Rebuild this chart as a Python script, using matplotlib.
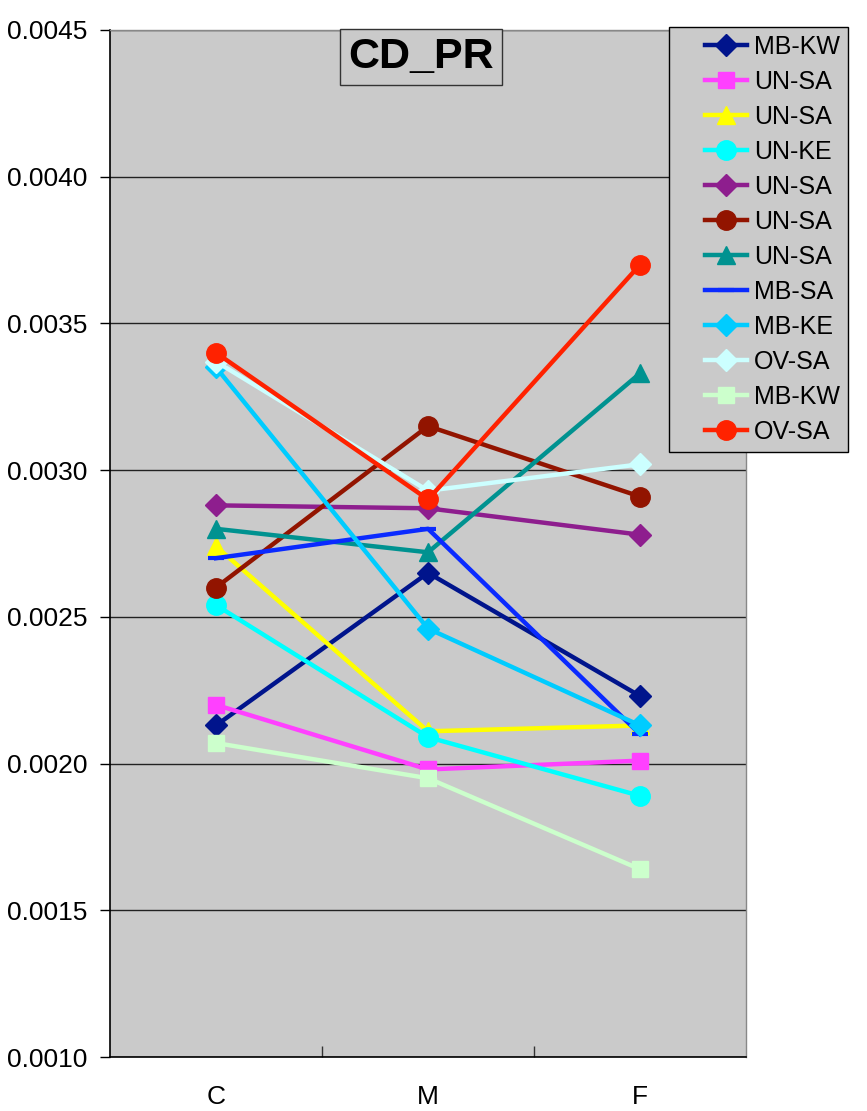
import matplotlib
matplotlib.use("Agg")
import matplotlib.pyplot as plt
from matplotlib.ticker import FixedLocator
from matplotlib.legend_handler import HandlerLine2D

plt.rcParams['font.family'] = ['Liberation Sans', 'DejaVu Sans']

categories = ['C', 'M', 'F']

labels = ['MB-KW', 'UN-SA', 'UN-SA', 'UN-KE', 'UN-SA', 'UN-SA',
          'UN-SA', 'MB-SA', 'MB-KE', 'OV-SA', 'MB-KW', 'OV-SA']

mb_kw_1 = [0.00213, 0.00265, 0.00223]
un_sa_1 = [0.00220, 0.00198, 0.00201]
un_sa_2 = [0.00274, 0.00211, 0.00213]
un_ke = [0.00254, 0.00209, 0.00189]
un_sa_3 = [0.00288, 0.00287, 0.00278]
un_sa_4 = [0.00260, 0.00315, 0.00291]
un_sa_5 = [0.00280, 0.00272, 0.00333]
mb_sa = [0.00270, 0.00280, 0.00210]
mb_ke = [0.00335, 0.00246, 0.00213]
ov_sa_1 = [0.00337, 0.00293, 0.00302]
mb_kw_2 = [0.00207, 0.00195, 0.00164]
ov_sa_2 = [0.00340, 0.00290, 0.00370]

series = [mb_kw_1, un_sa_1, un_sa_2, un_ke, un_sa_3, un_sa_4,
          un_sa_5, mb_sa, mb_ke, ov_sa_1, mb_kw_2, ov_sa_2]

colors = ['#00148C', '#FF40FF', '#FFFF00', '#00FFFF', '#8E1E8E', '#921400',
          '#009290', '#0A2AFF', '#00CCFF', '#CCFFFF', '#CCFFCC', '#FF2200']
markers = ['D', 's', '^', 'o', 'D', 'o', '^', '_', 'D', 'D', 's', 'o']
msizes = [11, 12, 13, 14, 11, 14, 13, 12, 11, 11, 12, 14]

bg = '#CACACA'

fig = plt.figure(figsize=(8.67, 11.11), dpi=100)
ax = fig.add_axes([0.1269, 0.0486, 0.7336, 0.9244])
ax.set_facecolor(bg)

x = list(range(len(categories)))
lines = []
for vals, lab, c, m, ms in zip(series, labels, colors, markers, msizes):
    if m == '_':
        ln, = ax.plot(x, vals, color=c, lw=3.2, marker=m, ms=ms, mew=3, label=lab)
    else:
        ln, = ax.plot(x, vals, color=c, lw=3.2, marker=m, ms=ms, mec=c, label=lab)
    lines.append(ln)

ax.set_xlim(-0.5, 2.5)
ax.set_ylim(0.0010, 0.0045)
ax.set_yticks([0.0010, 0.0015, 0.0020, 0.0025, 0.0030, 0.0035, 0.0040, 0.0045])
ax.set_yticklabels(['%.4f' % v for v in ax.get_yticks()])
ax.yaxis.grid(True, color='#222222', lw=1)
ax.set_axisbelow(True)

ax.set_xticks(x)
ax.set_xticklabels(categories)
ax.xaxis.set_minor_locator(FixedLocator([0.5, 1.5]))
ax.tick_params(axis='x', which='major', length=0, pad=20, labelsize=19)
ax.tick_params(axis='x', which='minor', direction='in', length=8, width=1, color='#333333')
ax.tick_params(axis='y', length=7, width=1, labelsize=19, pad=9)

for s in ['left', 'bottom']:
    ax.spines[s].set_color('black')
    ax.spines[s].set_linewidth(1.2)
for s in ['top', 'right']:
    ax.spines[s].set_color('#888888')
    ax.spines[s].set_linewidth(1)

fig.text(421 / 867, 1 - 57 / 1111, 'CD_PR', fontsize=31, fontweight='bold',
         ha='center', va='center',
         bbox=dict(boxstyle='square,pad=0.18', facecolor=bg, edgecolor='#333333', lw=1))

# legend handles drawn with some empty space on their left, like the original
hmap = {ln: HandlerLine2D(xpad=1.1) for ln in lines}
leg = fig.legend(loc='upper left', bbox_to_anchor=(669 / 867, 1 - 27 / 1111),
                 fontsize=18, frameon=True, fancybox=False, shadow=False,
                 facecolor=bg, edgecolor='black', framealpha=1,
                 handlelength=2.8, handletextpad=0.28, labelspacing=0.44,
                 borderpad=0.32, borderaxespad=0, handler_map=hmap)
leg.get_frame().set_linewidth(1)

fig.savefig('out.png', dpi=100)
